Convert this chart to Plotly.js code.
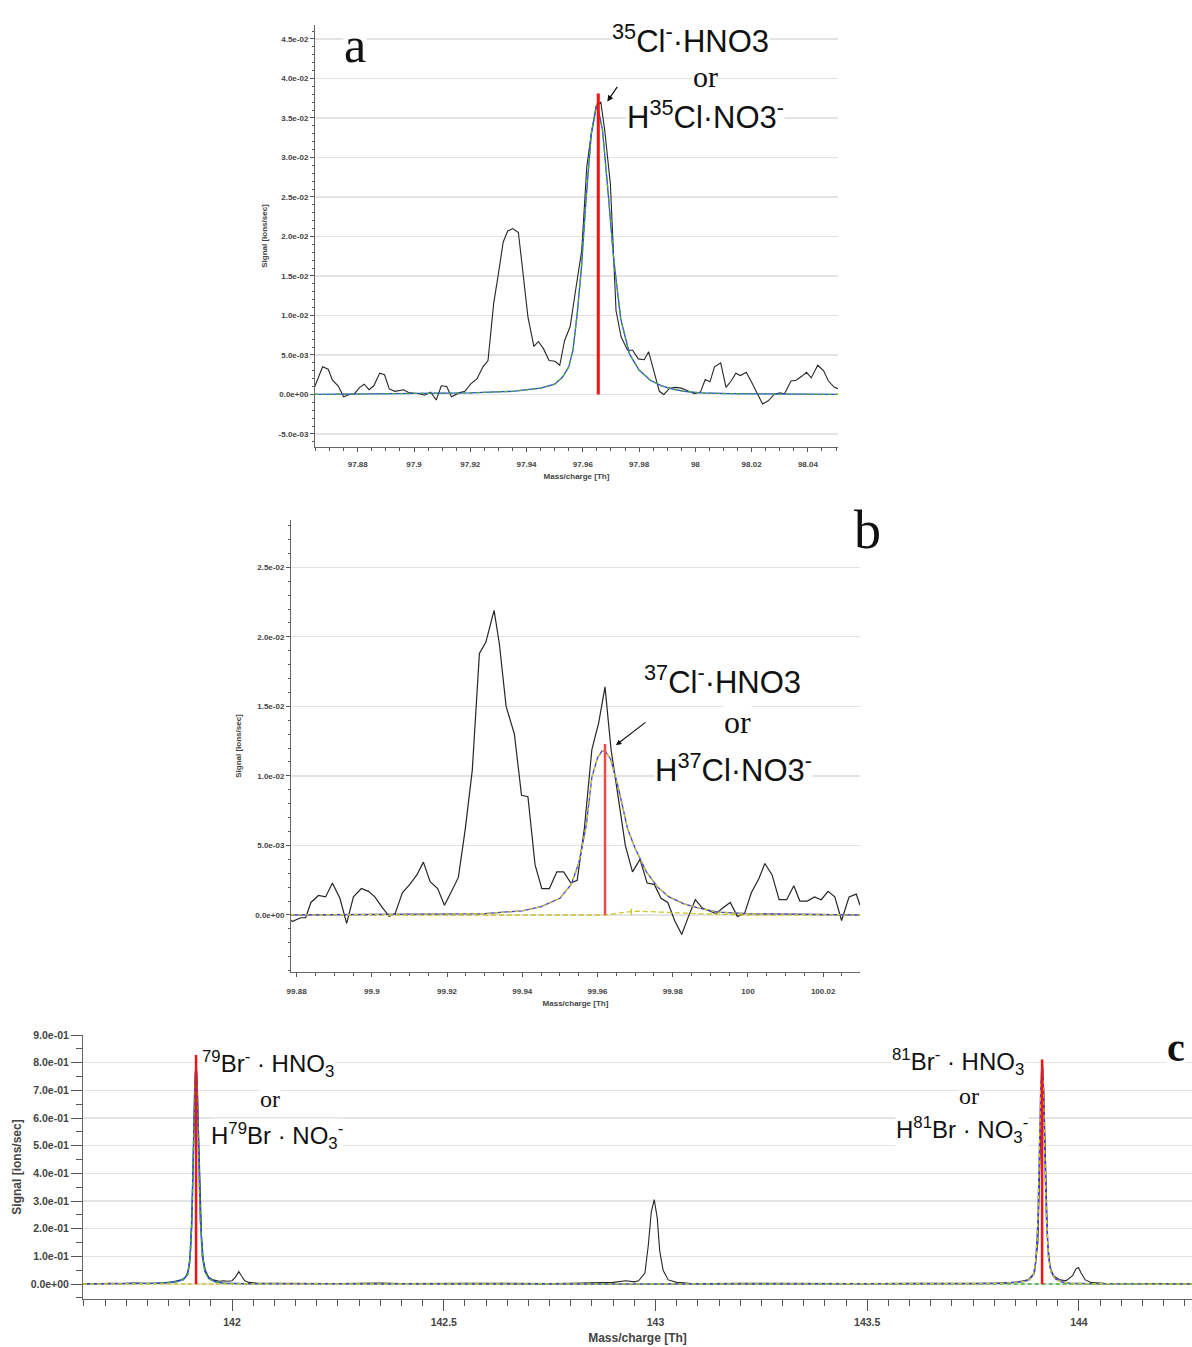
<!DOCTYPE html>
<html>
<head>
<meta charset="utf-8">
<script src="https://cdn.plot.ly/plotly-3.0.1.min.js"></script>
<style>html,body{margin:0;padding:0;background:#fff;}#chart{width:1192px;height:1347px;}</style>
</head>
<body>
<div id="chart"></div>
<script>
// ---------- Panel a : 35Cl- . HNO3 ----------
const aMass = [97.8644,97.8675,97.8695,97.871,97.873,97.875,97.877,97.8786,97.8807,97.8823,97.884,97.8857,97.8878,97.8895,97.8912,97.8932,97.8963,97.8984,97.9018,97.9038,97.9059,97.9079,97.9097,97.9116,97.9133,97.916,97.9181,97.9201,97.9224,97.9245,97.9263,97.9283,97.93,97.9317,97.9333,97.9351,97.9371,97.9388,97.9405,97.9426,97.9442,97.946,97.948,97.9501,97.9518,97.9535,97.9555,97.9576,97.9596,97.9614,97.963,97.9648,97.9664,97.9678,97.9698,97.9718,97.9736,97.9759,97.9777,97.9797,97.9818,97.9834,97.9854,97.9872,97.9888,97.9909,97.9929,97.995,97.997,97.9997,98.0018,98.0035,98.0052,98.0068,98.009,98.0109,98.0127,98.0144,98.016,98.0181,98.0199,98.0222,98.0239,98.0259,98.028,98.0301,98.0317,98.034,98.0358,98.0378,98.0395,98.0412,98.0435,98.0456,98.0473,98.0494,98.051];
const aSignal = [0.0007,0.0035,0.0032,0.0018,0.0011,-0.0003,0,0,0.0009,0.0013,0.0006,0.0011,0.0027,0.0025,0.0007,0.0004,0.0006,0.0002,0.0001,-0.0001,0.0003,-0.0007,0.0011,0.001,-0.0003,0.0002,0.0004,0.0013,0.002,0.0035,0.0043,0.0115,0.0153,0.0193,0.0207,0.021,0.0205,0.0153,0.0098,0.0061,0.0067,0.0058,0.0043,0.0042,0.0037,0.0068,0.0086,0.0136,0.0182,0.0288,0.033,0.0366,0.037,0.0334,0.0266,0.0106,0.0073,0.0056,0.0056,0.0045,0.0044,0.0054,0.0026,0.0004,0,0.0008,0.0009,0.0008,0.0005,0.0001,0.0003,0.0019,0.0016,0.0035,0.004,0.0009,0.0017,0.0027,0.0024,0.0028,0.0016,0,-0.0012,-0.0008,0,0.0002,0.0001,0.0017,0.0018,0.0023,0.0028,0.0021,0.0037,0.003,0.0017,0.0009,0.0007];
const aFitMass = [97.8648,97.90,97.92,97.935,97.945,97.950,97.9528,97.955,97.9565,97.958,97.9595,97.961,97.963,97.965,97.967,97.969,97.971,97.9735,97.9766,97.980,97.984,97.988,97.9916,97.996,98.002,98.012,98.0507];
const aFitSignal = [0,0.0001,0.0002,0.0004,0.0008,0.0013,0.0022,0.0035,0.0056,0.0102,0.016,0.024,0.033,0.0368,0.0335,0.0255,0.017,0.0095,0.0051,0.0031,0.0018,0.0011,0.0007,0.0004,0.0002,0.0001,0];
const aStickMass = 97.9655, aStickHeight = 0.0381;
const aYTickVals = [-0.005,0,0.005,0.01,0.015,0.02,0.025,0.03,0.035,0.04,0.045];
const aYTickText = ['-5.0e-03','0.0e+00','5.0e-03','1.0e-02','1.5e-02','2.0e-02','2.5e-02','3.0e-02','3.5e-02','4.0e-02','4.5e-02'];
const aXTickVals = [97.88,97.9,97.92,97.94,97.96,97.98,98,98.02,98.04];
const aXTickText = ['97.88','97.9','97.92','97.94','97.96','97.98','98','98.02','98.04'];

// ---------- Panel b : 37Cl- . HNO3 ----------
const bMass = [99.8785,99.8789,99.8811,99.8824,99.8838,99.8858,99.8877,99.8895,99.8915,99.8933,99.8951,99.8972,99.8991,99.9008,99.9026,99.9046,99.9062,99.9081,99.9101,99.912,99.9137,99.9155,99.9175,99.9193,99.921,99.923,99.9248,99.9267,99.9286,99.9303,99.9325,99.9339,99.9357,99.9379,99.9398,99.9415,99.9434,99.9452,99.9472,99.9492,99.951,99.9529,99.9546,99.9565,99.9585,99.9603,99.962,99.9636,99.9656,99.9674,99.9693,99.9713,99.9732,99.9751,99.9769,99.9787,99.9805,99.9824,99.9842,99.986,99.9879,99.9896,99.9915,99.9933,99.9953,99.9972,99.9991,100.0009,100.0029,100.0045,100.0064,100.0083,100.0103,100.0122,100.0138,100.0158,100.0177,100.0195,100.0213,100.0231,100.0249,100.0269,100.0288,100.0298];
const bSignal = [-0.0004,-0.00045,-0.0002,-0.0002,0.0009,0.0014,0.0013,0.0023,0.0012,-0.0006,0.0013,0.0019,0.0017,0.0013,0.0006,-0.0001,0.0001,0.0016,0.0022,0.0029,0.0038,0.0024,0.0019,0.0007,0.0016,0.0027,0.0061,0.0104,0.0188,0.0196,0.0219,0.0195,0.015,0.013,0.0086,0.0085,0.0036,0.0019,0.0019,0.0031,0.0031,0.0023,0.0025,0.0062,0.0119,0.0138,0.0164,0.0119,0.0083,0.005,0.0031,0.004,0.0023,0.0022,0.0012,0.0009,-0.0004,-0.0014,-0.0001,0.0011,0.0005,0.0003,0.0001,0.0005,0.0009,-0.0001,0.0001,0.0016,0.0026,0.0037,0.0029,0.0011,0.0011,0.0021,0.001,0.001,0.0013,0.0011,0.0017,0.0013,-0.0004,0.0013,0.0015,0.0007];
const bFitMass = [99.8785,99.91,99.93,99.94,99.945,99.95,99.953,99.955,99.957,99.9585,99.960,99.9612,99.962,99.9635,99.9655,99.968,99.970,99.973,99.976,99.979,99.983,99.987,99.992,100.0,100.0298];
const bFitSignal = [0,0.00005,0.0001,0.0003,0.0006,0.0012,0.0022,0.0037,0.0064,0.0099,0.0113,0.0118,0.0118,0.0112,0.0092,0.0062,0.0048,0.0031,0.002,0.0013,0.0008,0.0005,0.0002,0.0001,0];
const bMinorMass = [99.8785,99.962,99.965,99.968,99.971,99.975,99.980,99.986,99.992,100.0,100.0298];
const bMinorSignal = [0,0,0.0001,0.00022,0.00027,0.00024,0.00017,0.0001,0.00004,0,0];
const bStickMass = 99.962, bStickHeight = 0.0123;
const bMinorStickMass = 99.969, bMinorStickHeight = 0.00045;
const bYTickVals = [0,0.005,0.01,0.015,0.02,0.025];
const bYTickText = ['0.0e+00','5.0e-03','1.0e-02','1.5e-02','2.0e-02','2.5e-02'];
const bXTickVals = [99.88,99.9,99.92,99.94,99.96,99.98,100,100.02];
const bXTickText = ['99.88','99.9','99.92','99.94','99.96','99.98','100','100.02'];

// ---------- Panel c : 79Br- / 81Br- . HNO3 ----------
const cMass = [141.648,141.68,141.71,141.74,141.77,141.80,141.83,141.86,141.88,141.89,141.897,141.902,141.906,141.910,141.913,141.915,141.917,141.920,141.924,141.928,141.932,141.937,141.945,141.955,141.97,141.98,141.99,142.0,142.008,142.016,142.022,142.03,142.04,142.06,142.1,142.15,142.2,142.25,142.3,142.35,142.4,142.45,142.5,142.55,142.6,142.65,142.7,142.75,142.8,142.85,142.9,142.93,142.95,142.96,142.975,142.983,142.99,142.997,143.004,143.01,143.018,143.03,143.05,143.08,143.12,143.2,143.3,143.4,143.5,143.6,143.7,143.8,143.85,143.88,143.895,143.903,143.908,143.912,143.914,143.917,143.921,143.926,143.932,143.94,143.955,143.97,143.985,143.993,143.999,144.005,144.015,144.03,144.06,144.1,144.15,144.2,144.267];
const cSignal = [0.002,0.001,0.003,0.002,0.004,0.002,0.004,0.008,0.015,0.025,0.05,0.12,0.3,0.6,0.76,0.79,0.76,0.6,0.35,0.17,0.09,0.05,0.025,0.015,0.01,0.012,0.01,0.012,0.025,0.045,0.03,0.012,0.006,0.003,0.003,0.002,0.003,0.002,0.003,0.004,0.002,0.003,0.002,0.003,0.003,0.002,0.003,0.002,0.003,0.004,0.006,0.012,0.008,0.012,0.04,0.14,0.26,0.305,0.24,0.12,0.05,0.015,0.006,0.003,0.002,0.003,0.002,0.003,0.002,0.003,0.002,0.003,0.006,0.015,0.04,0.15,0.45,0.76,0.8,0.7,0.4,0.15,0.06,0.03,0.015,0.012,0.03,0.055,0.06,0.04,0.015,0.005,0.003,0.002,0.003,0.002,0.002];
const c79FitMass = [141.648,141.75,141.82,141.85,141.87,141.885,141.895,141.900,141.905,141.909,141.912,141.915,141.918,141.921,141.925,141.930,141.936,141.945,141.96,141.98,142.03,142.5];
const c79FitSignal = [0,0.001,0.003,0.005,0.009,0.016,0.035,0.08,0.22,0.5,0.72,0.79,0.70,0.48,0.24,0.10,0.045,0.02,0.008,0.003,0.001,0];
const c81FitMass = [142.5,143.0,143.5,143.75,143.82,143.85,143.87,143.883,143.893,143.898,143.903,143.907,143.910,143.913,143.916,143.919,143.923,143.928,143.934,143.943,143.958,143.978,144.03,144.267];
const c81FitSignal = [0,0,0,0.001,0.003,0.005,0.009,0.016,0.035,0.08,0.22,0.5,0.72,0.80,0.71,0.49,0.25,0.10,0.045,0.02,0.008,0.003,0.001,0];
const cStickMass = [141.915,143.913];
const cStickHeight = [0.828,0.812];
const cYTickVals = [0,0.1,0.2,0.3,0.4,0.5,0.6,0.7,0.8,0.9];
const cYTickText = ['0.0e+00','1.0e-01','2.0e-01','3.0e-01','4.0e-01','5.0e-01','6.0e-01','7.0e-01','8.0e-01','9.0e-01'];
const cXTickVals = [142,142.5,143,143.5,144];
const cXTickText = ['142','142.5','143','143.5','144'];

// ---------- styles ----------
const BLACK = '#262626', BLUE = '#3a3cf0', GREEN = '#3cb43c', YELLOW = '#cfc72a', RED = '#ff1010';
function line(x, y, xa, ya, color, width, dash) {
  return {type:'scatter', mode:'lines', x:x, y:y, xaxis:xa, yaxis:ya,
          line:{color:color, width:width, dash:dash||'solid'}, hoverinfo:'skip'};
}
function stick(m, h, xa, ya, color, width) {
  return line([m, m], [0, h], xa, ya, color, width);
}

const traces = [
  // a
  line(aMass, aSignal, 'x', 'y', BLACK, 1.1),
  line(aFitMass, aFitSignal, 'x', 'y', BLUE, 1.3),
  line(aFitMass, aFitSignal, 'x', 'y', GREEN, 1.3, '4px,3px'),
  stick(aStickMass, aStickHeight, 'x', 'y', RED, 3),
  // b
  line(bMass, bSignal, 'x2', 'y2', BLACK, 1.2),
  line(bMinorMass, bMinorSignal, 'x2', 'y2', YELLOW, 1.3, '5px,3px'),
  line(bFitMass, bFitSignal, 'x2', 'y2', BLUE, 1.3),
  line(bFitMass, bFitSignal, 'x2', 'y2', YELLOW, 1.3, '4px,3px'),
  stick(bMinorStickMass, bMinorStickHeight, 'x2', 'y2', YELLOW, 1.5),
  stick(bStickMass, bStickHeight, 'x2', 'y2', '#f24a4a', 2.5),
  // c
  line(cMass, cSignal, 'x3', 'y3', BLACK, 1.1),
  line(c79FitMass.concat(c81FitMass), c79FitSignal.concat(c81FitSignal), 'x3', 'y3', BLUE, 1.5),
  line(c79FitMass.concat([144.267]), c79FitSignal.concat([0]), 'x3', 'y3', GREEN, 1.4, '4px,3px'),
  line([141.648].concat(c81FitMass), [0].concat(c81FitSignal), 'x3', 'y3', YELLOW, 1.4, '4px,3px'),
  stick(cStickMass[0], cStickHeight[0], 'x3', 'y3', RED, 2.5),
  stick(cStickMass[1], cStickHeight[1], 'x3', 'y3', RED, 2.5)
];

const W = 1192, H = 1347;
const px = v => v / W, py = v => 1 - v / H;
const tickFontSmall = {family:'Liberation Sans, Arial, sans-serif', size:8, color:'#444', weight:'bold'};
const tickFontC = {family:'Liberation Sans, Arial, sans-serif', size:10.5, color:'#444', weight:'bold'};
const titleFontSmall = {family:'Liberation Sans, Arial, sans-serif', size:8, color:'#444', weight:'bold'};
const titleFontC = {family:'Liberation Sans, Arial, sans-serif', size:12, color:'#444', weight:'bold'};

function xAx(domain, range, vals, text, anchor, small, labelOff, titleOff) {
  return {domain:domain, range:range, anchor:anchor, tickmode:'array', tickvals:vals, ticktext:text,
    ticks:'outside', ticklen: small ? 4 : 11, tickwidth: 1, tickcolor:'#555', ticklabelstandoff: labelOff,
    showline:true, linecolor:'#666', linewidth:1, showgrid:false, zeroline:false,
    tickfont: small ? tickFontSmall : tickFontC,
    minor:{tickmode:'linear', tick0: vals[0], dtick: small ? 0.005 : 0.05, ticks:'outside', ticklen: small ? 2.5 : 6, tickcolor:'#555', showgrid:false},
    title:{text:'Mass/charge [Th]', font: small ? titleFontSmall : titleFontC, standoff: titleOff}};
}
function yAx(domain, range, vals, text, anchor, small, minorD, titleOff) {
  return {domain:domain, range:range, anchor:anchor, tickmode:'array', tickvals:vals, ticktext:text,
    ticks:'outside', ticklen: small ? 4 : 11, tickwidth: 1, tickcolor:'#555',
    showline:true, linecolor:'#666', linewidth:1, showgrid:true, gridcolor:'#e3e3e3', gridwidth:1.2, zeroline:false,
    tickfont: small ? tickFontSmall : tickFontC,
    minor:{tickmode:'linear', tick0: 0, dtick: minorD, ticks:'outside', ticklen: small ? 2.5 : 6, tickcolor:'#555', showgrid:false},
    title:{text:'Signal [ions/sec]', font: small ? titleFontSmall : titleFontC, standoff: titleOff}};
}

const SANS = 'Liberation Sans, Arial, sans-serif', SERIF = 'Liberation Serif, Times New Roman, serif';
function txt(text, x, y, size, family, extra) {
  return Object.assign({text:text, xref:'paper', yref:'paper', x:px(x), y:py(y), xanchor:'center', yanchor:'middle',
    showarrow:false, font:{family:family, size:size, color:'#111'}, bgcolor:'#ffffff', borderpad:0}, extra||{});
}

const annotations = [
  // a
  txt('a', 355, 45, 50, SERIF),
  txt('<sup>35</sup>Cl<sup>-</sup>·HNO3', 690, 39, 31, SANS),
  txt('or', 705, 77, 30, SERIF),
  txt('H<sup>35</sup>Cl·NO3<sup>-</sup>', 705, 115, 31, SANS),
  {x:97.9687, y:0.0371, xref:'x', yref:'y', ax:11, ay:-16, text:'', showarrow:true, arrowhead:2, arrowsize:1, arrowwidth:1.2, arrowcolor:'#111'},
  // b
  txt('b', 867, 530, 54, SERIF),
  txt('<sup>37</sup>Cl<sup>-</sup>·HNO3', 722, 680, 31, SANS),
  txt('or', 737, 722, 32, SERIF),
  txt('H<sup>37</sup>Cl·NO3<sup>-</sup>', 733, 768, 31, SANS),
  {x:99.9649, y:0.01221, xref:'x2', yref:'y2', ax:31, ay:-24, text:'', showarrow:true, arrowhead:2, arrowsize:1, arrowwidth:1.1, arrowcolor:'#111'},
  // c
  txt('c', 1176, 1047, 40, SERIF, {font:{family:SERIF, size:40, color:'#111', weight:'bold'}}),
  txt('<sup>79</sup>Br<sup>-</sup> · HNO<sub>3</sub>', 268, 1064, 24, SANS),
  txt('or', 270, 1099, 24, SERIF),
  txt('H<sup>79</sup>Br · NO<sub>3</sub><sup>-</sup>', 277, 1136, 24, SANS),
  txt('<sup>81</sup>Br<sup>-</sup> · HNO<sub>3</sub>', 958, 1062, 24, SANS),
  txt('or', 969, 1096, 24, SERIF),
  txt('H<sup>81</sup>Br · NO<sub>3</sub><sup>-</sup>', 962, 1130, 24, SANS)
];

const layout = {
  width:W, height:H, margin:{l:0, r:0, t:0, b:0}, paper_bgcolor:'#fff', plot_bgcolor:'#fff',
  showlegend:false, font:{family:SANS, color:'#333'},
  xaxis: xAx([px(315), px(838)], [97.8648, 98.0507], aXTickVals, aXTickText, 'y', true, 5, 5),
  yaxis: yAx([py(447), py(25)], [-0.00665, 0.04677], aYTickVals, aYTickText, 'x', true, 0.001, 9),
  xaxis2: xAx([px(291), px(860)], [99.8785, 100.0298], bXTickVals, bXTickText, 'y2', true, 7, 5),
  yaxis2: yAx([py(972), py(520)], [-0.0041, 0.0284], bYTickVals, bYTickText, 'x2', true, 0.001, 12),
  xaxis3: xAx([px(83), 1], [141.648, 144.267], cXTickVals, cXTickText, 'y3', false, 2, 7),
  yaxis3: yAx([py(1299), py(1035)], [-0.054, 0.9], cYTickVals, cYTickText, 'x3', false, 0.05, 6),
  annotations: annotations
};

Plotly.newPlot('chart', traces, layout, {staticPlot:true, displayModeBar:false});
</script>
</body>
</html>
